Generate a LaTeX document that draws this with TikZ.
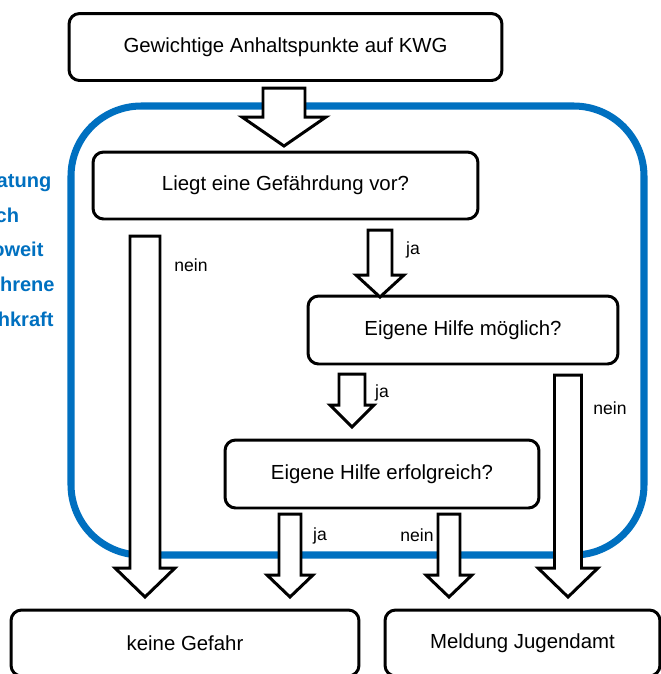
\documentclass[tikz,border=0pt]{standalone}
\usepackage{fontspec}
\setmainfont{Liberation Sans}
\usetikzlibrary{calc}

\definecolor{blau}{HTML}{0070C0}

\tikzset{
  kasten/.style={draw, line width=1.7pt, rounded corners=6pt, fill=white,
    font=\fontsize{11.6}{14}\selectfont, inner sep=0pt},
  pfeil/.style={draw, line width=1.7pt, fill=white, line join=miter},
  marke/.style={font=\fontsize{10}{12}\selectfont, inner sep=0pt},
  rahmen/.style={draw=blau, line width=4pt, rounded corners=40pt}
}

% block arrow: x, y top, y neck, y tip, half shaft, half head
\newcommand{\blockpfeil}[6]{%
  \draw[pfeil] (#1-#5,#2) -- (#1+#5,#2) -- (#1+#5,#3) -- (#1+#6,#3)
    -- (#1,#4) -- (#1-#6,#3) -- (#1-#5,#3) -- cycle;}

\begin{document}
\begin{tikzpicture}[x=0.02cm, y=-0.02cm]
        \useasboundingbox (0,0) rectangle (661,674);

        \draw[rahmen] (71,106) rectangle (644,555);

        \node[text=blau, font=\bfseries\fontsize{11.4}{19.8}\selectfont,
          align=left, anchor=west, inner sep=0pt] (beratung) at (-37,250)
          {Beratung\\durch\\insoweit\\erfahrene\\Fachkraft};

        \node[kasten, minimum width=8.66cm, minimum height=1.34cm] (anhalt) at (285.5,47) {Gewichtige Anhaltspunkte auf KWG};
        \node[kasten, minimum width=7.7cm, minimum height=1.34cm] (gefahr) at (285.5,185.5) {Liegt eine Gefährdung vor?};
        \node[kasten, minimum width=6.2cm, minimum height=1.36cm] (moeglich) at (463,330) {Eigene Hilfe möglich?};
        \node[kasten, minimum width=6.28cm, minimum height=1.36cm] (erfolg) at (382,474) {Eigene Hilfe erfolgreich?};
        \node[kasten, minimum width=6.96cm, minimum height=1.32cm] (keine) at (185,643) {keine Gefahr};
        \node[kasten, minimum width=5.5cm, minimum height=1.32cm] (meldung) at (522.5,643) {Meldung Jugendamt};

        \blockpfeil{284}{88}{117}{146}{21}{42}
        \blockpfeil{145}{236}{568}{597}{15}{30}
        \blockpfeil{380}{230}{275}{297}{12}{24}
        \blockpfeil{352}{374}{405}{427}{13}{22}
        \blockpfeil{568}{375}{568}{597}{13.5}{30}
        \blockpfeil{290}{514}{575}{597}{11}{23}
        \blockpfeil{449}{514}{575}{597}{11}{23}

        \node[marke] (nein1) at (191,265) {nein};
        \node[marke] (ja1) at (413,250) {ja};
        \node[marke] (ja2) at (382,393) {ja};
        \node[marke] (nein2) at (610,408) {nein};
        \node[marke] (ja3) at (320,536) {ja};
        \node[marke] (nein3) at (417,535) {nein};
\end{tikzpicture}
\end{document}
